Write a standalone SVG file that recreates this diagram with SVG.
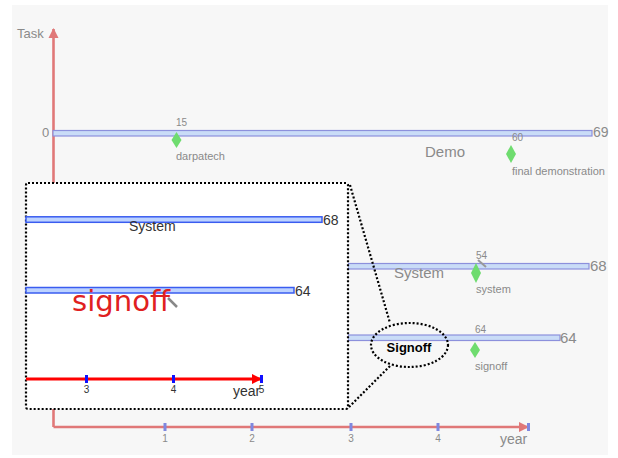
<svg xmlns="http://www.w3.org/2000/svg" width="618" height="458" viewBox="0 0 618 458">
<defs>
<style>
.gt{font-family:"Liberation Sans",Arial,sans-serif;fill:#8a8a8a}
.dt{font-family:"Liberation Sans",Arial,sans-serif;fill:#333}
.bar{fill:#c9dcf7;stroke:#8c90dc;stroke-width:1.2}
.bbar{fill:#bcd2ff;stroke:#3a5cf0;stroke-width:1.5}
.dia{fill:#6fdc6f}
.dot{fill:none;stroke:#000;stroke-width:2.2;stroke-dasharray:2 2}
.tick{fill:#7f88e0}
.btick{fill:#1010ff}
</style>
<marker id="ah" viewBox="0 0 10 10" refX="9" refY="5" markerWidth="4" markerHeight="4" orient="auto" markerUnits="strokeWidth">
<path d="M0,0 L10,5 L0,10 z" fill="#e07878"/>
</marker>
<marker id="ahr" viewBox="0 0 10 10" refX="9" refY="5" markerWidth="3.5" markerHeight="3.5" orient="auto" markerUnits="strokeWidth">
<path d="M0,0 L10,5 L0,10 z" fill="#ff0000"/>
</marker>
</defs>
<rect x="0" y="0" width="618" height="458" fill="#ffffff"/>
<rect x="12" y="5" width="596" height="450" fill="#f7f7f7"/>

<g id="axes">
<line x1="53.5" y1="427" x2="53.5" y2="29" stroke="#e07878" stroke-width="2.6" marker-end="url(#ah)"/>
<line x1="53.5" y1="427" x2="528" y2="427" stroke="#e07878" stroke-width="2.6" marker-end="url(#ah)"/>
<text class="gt" x="17" y="38" font-size="13">Task</text>
<rect class="tick" x="163.5" y="423" width="3" height="8"/>
<rect class="tick" x="250.5" y="423" width="3" height="8"/>
<rect class="tick" x="349.5" y="423" width="3" height="8"/>
<rect class="tick" x="436.5" y="423" width="3" height="8"/>
<rect class="tick" x="527" y="423" width="3" height="8"/>
<text class="gt" x="165" y="442" font-size="10" text-anchor="middle" fill="#aaa">1</text>
<text class="gt" x="252" y="442" font-size="10" text-anchor="middle">2</text>
<text class="gt" x="351" y="442" font-size="10" text-anchor="middle">3</text>
<text class="gt" x="438" y="442" font-size="10" text-anchor="middle">4</text>
<text class="gt" x="500" y="444" font-size="14">year</text>
</g>

<g id="task-0">
<text class="gt" x="42" y="137" font-size="13">0</text>
<rect class="bar" x="53" y="130.5" width="539" height="5.5"/>
<text class="gt" x="593" y="137" font-size="14">69</text>
<text class="gt" x="425" y="157" font-size="15">Demo</text>
</g>
<g id="milestone-15">
<polygon class="dia" points="176.5,132 181.5,140 176.5,148 171.5,140"/>
<text class="gt" x="176" y="126" font-size="10">15</text>
<text class="gt" x="176" y="160" font-size="11" fill="#777">darpatech</text>
</g>
<g id="milestone-60">
<polygon class="dia" points="511,145 516,154 511,163 506,154"/>
<text class="gt" x="512" y="141" font-size="10">60</text>
<text class="gt" x="512" y="175" font-size="11" fill="#777">final demonstration</text>
</g>

<g id="task-system">
<rect class="bar" x="348" y="263.5" width="241" height="5.5"/>
<text class="gt" x="590" y="271" font-size="15">68</text>
<text class="gt" x="394" y="278" font-size="15" fill="#9a9a9a">System</text>
</g>
<g id="milestone-system">
<polygon class="dia" points="476,263 481,273 476,283 471,273"/>
<text class="gt" x="476" y="259" font-size="10">54</text>
<line x1="478" y1="260" x2="486" y2="267" stroke="#999" stroke-width="2"/>
<text class="gt" x="476" y="293" font-size="11" fill="#777">system</text>
</g>

<g id="task-signoff">
<rect class="bar" x="348" y="335" width="212" height="5.5"/>
<text class="gt" x="560" y="343" font-size="15">64</text>
</g>
<g id="milestone-signoff">
<polygon class="dia" points="475,342 480,350 475,358 470,350"/>
<text class="gt" x="475" y="333" font-size="10">64</text>
<text class="gt" x="475" y="370" font-size="11" fill="#777">signoff</text>
</g>

<g id="connectors">
<line class="dot" x1="350" y1="185" x2="390" y2="323"/>
<line class="dot" x1="390" y1="366" x2="348" y2="408"/>
</g>

<g id="callout-signoff">
<ellipse class="dot" cx="409.5" cy="345" rx="38.5" ry="22"/>
<text x="409" y="352" font-size="13" font-weight="bold" text-anchor="middle" font-family="Liberation Sans, Arial, sans-serif" fill="#000">Signoff</text>
</g>

<g id="zoom-box">
<rect x="26" y="183" width="322" height="226" rx="2" fill="#ffffff" stroke="#000" stroke-width="2.2" stroke-dasharray="2 2"/>
<rect class="bbar" x="26" y="216.8" width="296" height="5.5"/>
<text class="dt" x="323" y="225" font-size="14">68</text>
<text class="dt" x="129" y="231" font-size="14">System</text>
<rect class="bbar" x="26" y="287.5" width="268" height="5.5"/>
<text class="dt" x="295" y="296" font-size="14">64</text>
<text x="72" y="311" font-size="29" textLength="98" lengthAdjust="spacingAndGlyphs" font-family="DejaVu Sans, sans-serif" fill="#e02020">signoff</text>
<line x1="168" y1="298" x2="177" y2="307" stroke="#888" stroke-width="2.5"/>
<line x1="26" y1="379" x2="261" y2="379" stroke="#ff0000" stroke-width="3" marker-end="url(#ahr)"/>
<rect class="btick" x="85" y="375" width="3" height="8"/>
<rect class="btick" x="172" y="375" width="3" height="8"/>
<rect class="btick" x="260" y="375" width="3" height="8"/>
<text class="dt" x="86.5" y="393" font-size="10" text-anchor="middle" fill="#555">3</text>
<text class="dt" x="173.5" y="393" font-size="10" text-anchor="middle" fill="#555">4</text>
<text class="dt" x="261.5" y="393" font-size="10" text-anchor="middle" fill="#555">5</text>
<text class="dt" x="233" y="396" font-size="14">year</text>
</g>
</svg>
